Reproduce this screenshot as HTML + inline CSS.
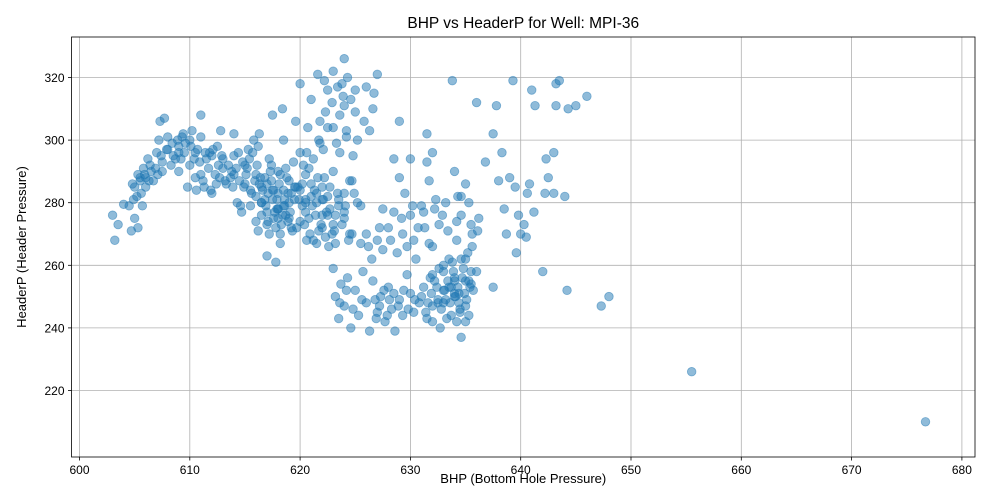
<!DOCTYPE html>
<html><head><meta charset="utf-8"><style>
body{margin:0;background:#fff;font-family:"Liberation Sans","DejaVu Sans",sans-serif}
svg{display:block}
</style></head><body>
<svg id="chart" width="1000" height="500"></svg>
<script>
const bhp=[603,603.2,603.5,604,604.5,604.7,605,605,605.2,605.3,605.5,605.7,605.8,606,606.2,606.5,606.7,607,607.2,607.3,607.5,607.7,608,608.3,608.5,609,609,609.3,609.5,609.8,610,610,610.2,610.5,610.7,611,611,611.3,611.5,611.8,612,612.3,612.5,612.8,613,613.3,613.7,614,614,614.3,614.7,615,615.3,615.5,615.8,616,616.3,616.5,616.8,617,617,617.2,617.5,617.7,617.8,618,618,618.2,618.4,618.5,618.7,619,619,619.2,619.4,619.6,619.8,620,620,620.2,620.4,620.5,620.7,621,621,621.2,621.4,621.6,621.8,622,622,622.3,622.5,622.7,623,623,623,623.2,623.4,623.6,623.8,624,624,624,624.2,624.5,624.7,625,625,625.2,625.5,625.8,626,626.3,626.7,626.6,627,627.5,
623,623.2,623.5,623.7,624,624.3,624.6,625,625.3,625.7,626,626.3,626.6,627,627.3,627.7,628,628.3,628.6,629,629.3,629.7,630,630.3,
626,626.5,627,627.5,628,628.5,628.5,628.8,629,629.3,629,629.5,630,630,630.3,630.5,631,631.3,631.5,631.5,631.7,632,632,632.3,
631,631.5,631.8,632,632.4,632.7,633,633.2,633.5,633.7,634,634.2,634.4,634.6,634.8,635,635.2,635.4,635.6,636,635.3,
633.8,634,634.3,634.6,635,635.3,635.5,636,636.2,636.8,637.5,637.5,637.8,638,638.3,638.5,638.7,639,639.3,639.5,639.6,639.8,640,640.3,640.5,640.6,640.8,641,641.2,641.3,642,642.2,642.3,642.5,643,643,643.2,643.2,643.5,644,644.2,644.3,645,646,647.3,648,655.5,676.7,
615,615.5,616,616.5,617,617.5,618,618.5,619,619.5,620,620.5,621,621.5,622,622.5,623,623.5,624,617.3,618.8,620.8,622.2,616.2,618.2,620.6,622.6,624.5,619.7,621.7,
605.5,606,607.5,608,609,610.5,611,612,613,614,
616.5,617.5,618.5,619.5,620.5,621.5,622.5,616,618,620,622,624,633,634,635,632.5,633.5,634.5,633,634,635.5,632,633,634,635];
const headerP=[276,268,273,279.5,279,271,275,285,282,272,287,279,291,288,294,290,287,296,300,306,293,307,297,292,295,298,290,301,296,285,300,292,303,288,297,301,308,285,294,296,283,289,298,303,291,286,288,302,295,280,277,292,297,284,300,289,302,285,281,273,263,294,308,277,261,290,283,270,310,300,276,287,280,272,293,306,285,318,296,279,273,289,304,313,282,268,276,321,299,285,272,309,316,278,322,304,290,267,283,296,318,326,311,275,301,287,270,309,316,280,267,306,317,303,315,310,321,278,
259,250,243,254,247,256,240,252,244,258,248,239,255,245,250,242,253,246,239,249,244,257,251,245,
270,262,268,265,272,277,294,264,288,270,306,283,294,276,268,262,279,272,302,293,287,296,266,281,
250,243,256,247,253,240,258,249,262,244,255,268,251,237,259,247,264,253,270,258,244,
319,290,282,276,286,280,273,312,275,293,253,302,311,287,296,278,270,288,319,285,264,276,270,273,269,283,286,316,277,311,258,283,294,288,283,296,311,318,319,282,252,310,311,314,247,250,226,210,
286,279,282,276,286,281,278,284,275,281,284,277,286,280,276,282,273,279,283,290,288,291,288,271,267,268,266,270,272,271,
288,285,290,301,296,296,289,295,294,289,
280,284,279,285,280,283,276,274,278,274,281,277,252,250,255,248,253,246,248,251,254,257,260,256,262];
const bhpDense=[614.2,614.5,614.8,615.1,615.4,615.6,615.9,616.1,616.4,616.6,616.9,617.1,617.4,617.6,617.9,618.1,618.3,618.6,618.9,619.1,619.3,619.6,619.9,617.2,617.8,618.4,618.9,616.5,617,617.6,618.2,618.7,615.7,616.2,617.4,614.9,614.4,613.8,613.5,613.2,612.9,612.6,616.8,617.9,618.6,619.2,618.0,617.1,616.3,615.2,
620.2,620.5,620.8,621.1,621.3,621.6,621.9,622.1,622.4,622.7,622.9,623.2,623.5,623.8,624.1,624.4,620.9,621.5,622.3,623.1,620.3,621.2,622.1,623.3,624.2,621.7,622.5,623.6,622.9,621.8,623.9,624.3,623.4,622.2,624.6,625.2,624.8,625.5,624.7,624.9,620.6,
604.8,605.3,605.9,606.4,606.9,607.4,607.9,608.4,608.9,609.2,609.6,610.1,610.4,610.9,611.4,611.7,612.1,612.4,609.4,608.7,607.1,606.3,605.6,604.9,610.6,611.2,611.9,612.7,613.9,614.6,
631.2,631.6,631.9,632.2,632.5,632.8,633.1,633.4,633.6,633.9,634.1,634.3,634.5,634.7,634.9,635.1,635.3,635.5,635.7,632.6,633.3,634.2,633.8,634.6,635.0,632.0,631.4,630.8,634.4,633.7,
626.8,627.2,627.6,628.1,628.5,628.9,629.4,629.8,630.4,627.9,626.9,625.6,624.8,624.2,623.6,
626.2,627.2,628.2,629.2,630.2,631.2,632.2,633.2,634.2,633.4,632.6,631.7,630.7,629.7,634.6,635.6,636.1,632.9];
const hpDense=[291,287,293,289,294,283,287,292,288,284,279,283,287,275,281,286,273,279,283,277,271,285,281,270,272,276,274,280,277,284,289,291,296,298,292,285,296,290,292,287,295,292,288,278,281,283,275,274,286,291,
286,281,275,279,284,288,273,281,277,285,270,276,281,273,279,268,270,267,269,271,292,294,297,299,303,300,304,308,312,306,314,320,317,319,313,300,295,279,287,283,296,
286,289,289,292,291,295,297,299,300,294,299,298,294,293,296,291,297,286,302,294,289,287,283,281,284,287,284,288,285,279,
253,248,251,255,249,246,252,255,248,258,250,253,245,256,251,249,255,258,252,259,243,242,261,262,242,242,245,248,248,253,
249,247,252,249,251,247,252,246,249,244,243,249,246,252,248,
266,272,268,275,279,277,278,280,274,271,273,267,272,266,282,266,271,276];
const xTicks=[600,610,620,630,640,650,660,670,680];
const yTicks=[220,240,260,280,300,320];
const X0=71.5,X1=975,Y0=37,Y1=457;
const xs=v=>79.5+(v-600)*11.03;
const ys=v=>77.5+(320-v)*3.13;
const svg=document.getElementById('chart');
const NS='http://www.w3.org/2000/svg';
function mk(t,a,p){const e=document.createElementNS(NS,t);for(const k in a)e.setAttribute(k,a[k]);(p||svg).appendChild(e);return e;}
const grid=mk('g',{});


xTicks.forEach(t=>{const x=xs(t);
 const l=mk('line',{x1:x,x2:x,y1:Y0,y2:Y1,stroke:'#b0b0b0','stroke-width':0.8},grid);
 
 const k=mk('line',{x1:x,x2:x,y1:Y1,y2:Y1+3.5,stroke:'#000','stroke-width':0.8});
 
 const tx=mk('text',{x:x,y:Y1+17,'text-anchor':'middle','font-size':12,fill:'#000'});tx.textContent=t;
 });
yTicks.forEach(t=>{const y=ys(t);
 const l=mk('line',{x1:X0,x2:X1,y1:y,y2:y,stroke:'#b0b0b0','stroke-width':0.8},grid);
 
 const k=mk('line',{x1:X0-3.5,x2:X0,y1:y,y2:y,stroke:'#000','stroke-width':0.8});
 
 const tx=mk('text',{x:X0-7,y:y+4.5,'text-anchor':'end','font-size':12,fill:'#000'});tx.textContent=t;
 });
const pts=mk('g',{});


const allB=bhp.concat(bhpDense), allH=headerP.concat(hpDense);
allB.forEach((b,i)=>{const c=mk('circle',{cx:xs(b),cy:ys(allH[i]),r:4.3,fill:'#1f77b4','fill-opacity':0.5,stroke:'#1f77b4','stroke-opacity':0.5,'stroke-width':0.8},pts);
 });
const fr=mk('rect',{x:X0,y:Y0,width:X1-X0,height:Y1-Y0,fill:'none',stroke:'#000','stroke-width':0.8});

const ti=mk('text',{x:(X0+X1)/2,y:28,'text-anchor':'middle','font-size':15.5,fill:'#000'});ti.textContent='BHP vs HeaderP for Well: MPI-36';

const xl=mk('text',{x:(X0+X1)/2,y:483,'text-anchor':'middle','font-size':13,fill:'#000'});xl.textContent='BHP (Bottom Hole Pressure)';

const yl=mk('text',{x:0,y:0,'text-anchor':'middle','font-size':13,fill:'#000',transform:'translate(26,'+((Y0+Y1)/2)+') rotate(-90)'});yl.textContent='HeaderP (Header Pressure)';

</script>
</body></html>
